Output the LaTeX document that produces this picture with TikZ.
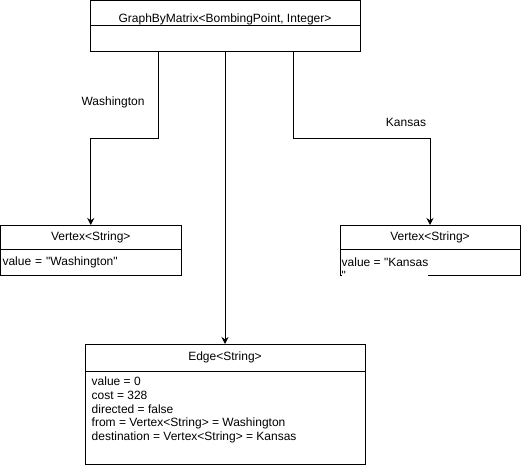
\documentclass[tikz,border=0pt]{standalone}
\usepackage{fontspec}
\setmainfont{Liberation Sans}[Ligatures=TeXOff]
\usetikzlibrary{positioning,arrows.meta}

\begin{document}
\begin{tikzpicture}[
	x=1pt, y=-1pt,
	node distance = 0pt,
	every node/.style={font=\fontsize{12}{13.7}\selectfont},
	head/.style={draw, line width=1pt, minimum height=24pt, 
		outer sep=0pt, inner sep=0pt, anchor=north west},
	body/.style={draw, line width=1pt, minimum height=26pt, 
		outer sep=0pt, inner xsep=2pt, inner ysep=0pt},
	txt/.style={align=left, inner sep=0pt, anchor=north west},
	link/.style={line width=1pt, -{Stealth[length=7pt, width=7pt]}},
	]
	\useasboundingbox (0,0) rectangle (521,468);
	
	\node [head, minimum width=270pt, minimum height=25pt, 
		text height=20pt, text depth=1pt] (graph) at (90,0.5) {GraphByMatrix<BombingPoint, Integer>};
	\node [body, minimum width=270pt, below=of graph] (graphb) {};
	
	\node [head, minimum width=180.5pt] (wash) at (0.5,225) {Vertex<String>};
	\node [body, minimum width=180.5pt, text width=176.5pt, align=left, below=of wash] (washb) {value = "Washington"};
	
	\node [head, minimum width=180pt] (kans) at (340,225) {Vertex<String>};
	\node [body, minimum width=180pt, below=of kans] (kansb) {};
	\node [txt, fill=white] (ktext) at ([shift={(1.5pt,-8.4pt)}]kansb.north west) {value = "Kansas\\"};
	
	\node [head, minimum width=280pt, minimum height=27pt] (edge) at (85,344) {Edge<String>};
	\node [body, minimum width=280pt, minimum height=93pt, below=of edge] (edgeb) {};
	\node [txt] (etext) at ([shift={(6.5pt,-5.7pt)}]edgeb.north west) {value = 0\\cost = 328\\directed = false\\from = Vertex<String> = Washington\\destination = Vertex<String> = Kansas};
	
	\draw [link] ([xshift=68pt]graphb.south west) -- ++(0,87) -| (wash.north);
	\draw [link] (graphb.south) -- (edge.north);
	\draw [link] ([xshift=-67pt]graphb.south east) -- ++(0,87) -| (kans.north);
	
	\node (wlabel) at (113,102.5) {Washington};
	\node (klabel) at (406,122.5) {Kansas};
\end{tikzpicture}
\end{document}
